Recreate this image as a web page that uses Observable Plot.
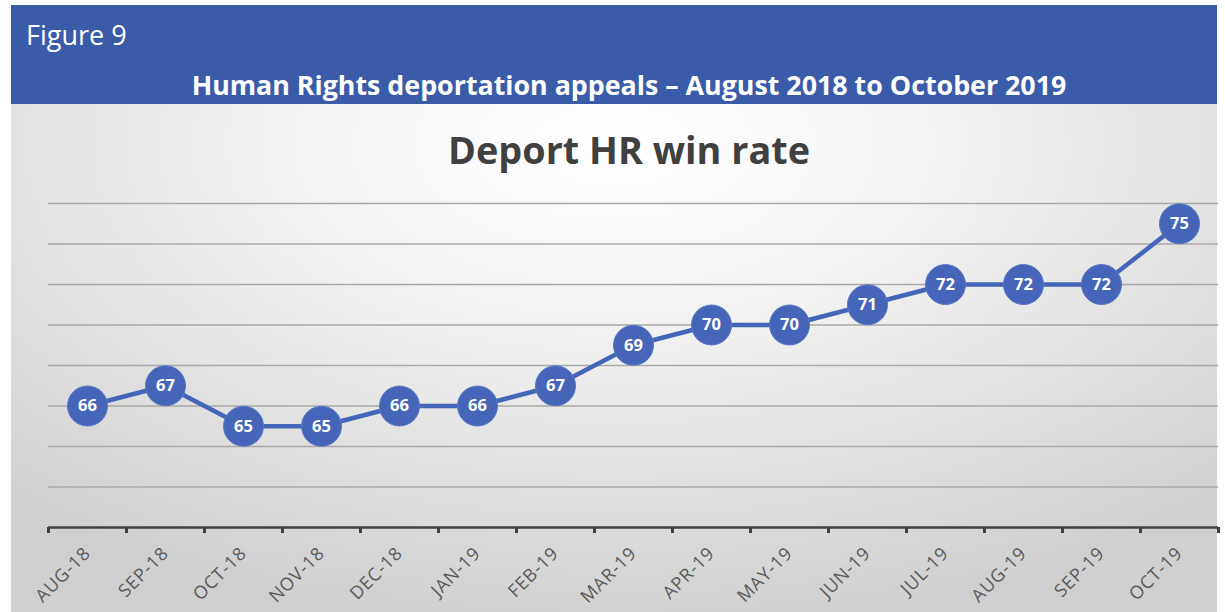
<!DOCTYPE html>
<html>
<head>
<meta charset="utf-8">
<script src="https://cdn.jsdelivr.net/npm/d3@7"></script>
<script src="https://cdn.jsdelivr.net/npm/@observablehq/plot@0.6"></script>
<style>
  html, body { margin: 0; padding: 0; background: #fff; width: 1225px; height: 612px; overflow: hidden; }
  #banner { position: absolute; left: 11px; top: 5px; width: 1206px; height: 99px; background: #3a5ca8; color: #fff; font-family: "Open Sans", sans-serif; }
  #fig { position: absolute; left: 15px; top: 11px; font-size: 27px; line-height: 37px; }
  #title { position: absolute; left: 0; width: 1206px; top: 61px; line-height: 37px; text-align: center; font-size: 26.8px; font-weight: bold; padding-left: 30px; box-sizing: border-box; }
  #panel { position: absolute; left: 11px; top: 104px; width: 1206px; height: 508px;
    background: radial-gradient(ellipse 75% 95% at 50% 8%, #ffffff 0%, #f4f4f4 35%, #e0e0e0 70%, #d0d0d0 100%); }
  #ctitle { position: absolute; left: 11px; width: 1206px; top: 124px; line-height: 52px; text-align: center; font-family: "Open Sans", sans-serif; font-weight: bold; font-size: 37.8px; color: #404040; padding-left: 30px; box-sizing: border-box; }
  #chart { position: absolute; left: 0; top: 104px; }
  .mlabel text { letter-spacing: 0.8px; }
</style>
</head>
<body>
<div id="banner"><div id="fig">Figure 9</div><div id="title">Human Rights deportation appeals – August 2018 to October 2019</div></div>
<div id="panel"></div>
<div id="ctitle">Deport HR win rate</div>
<div id="chart"></div>
<script>
const months = ["AUG-18","SEP-18","OCT-18","NOV-18","DEC-18","JAN-19","FEB-19","MAR-19","APR-19","MAY-19","JUN-19","JUL-19","AUG-19","SEP-19","OCT-19"];
const winRate = [66, 67, 65, 65, 66, 66, 67, 69, 70, 70, 71, 72, 72, 72, 75];
const gridValues = [62, 64, 66, 68, 70, 72, 74, 76];

const data = months.map((m, i) => ({i, month: m, value: winRate[i]}));
const boundaries = months.map((m, i) => i - 0.5).concat([months.length - 0.5]);
const blue = "#4566b8";

const plot = Plot.plot({
  width: 1225,
  height: 508,
  marginTop: 99,
  marginBottom: 85,
  marginLeft: 48,
  marginRight: 7,
  style: {background: "transparent", fontFamily: "Open Sans, sans-serif", overflow: "visible"},
  x: {type: "linear", domain: [-0.5, months.length - 0.5], axis: null},
  y: {domain: [60, 76], axis: null},
  marks: [
    Plot.ruleY(gridValues, {stroke: "#a9a9a9", strokeWidth: 1.3}),
    Plot.ruleY([60], {stroke: "#404040", strokeWidth: 2.5}),
    Plot.tickX(boundaries, {x: d => d, stroke: "#404040", strokeWidth: 3, insetTop: 330, insetBottom: 0}),
    Plot.text(data, {x: "i", text: "month", frameAnchor: "bottom", rotate: -45, textAnchor: "end", dx: 4, dy: 27, fontSize: 18, fill: "#5a5a5a", className: "mlabel"}),
    Plot.line(data, {x: "i", y: "value", stroke: blue, strokeWidth: 4.5}),
    Plot.dot(data, {x: "i", y: "value", r: 20, fill: blue, stroke: "#5a78c4", strokeWidth: 1}),
    Plot.text(data, {x: "i", y: "value", text: d => String(d.value), fill: "#fff", fontSize: 16.5, fontWeight: "bold"})
  ]
});
document.getElementById("chart").appendChild(plot);
</script>
</body>
</html>
